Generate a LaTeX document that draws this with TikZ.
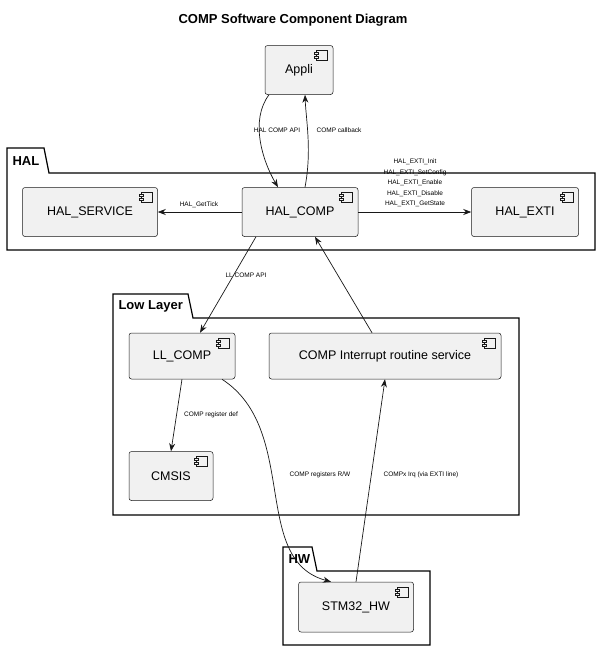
\documentclass[tikz,border=0pt]{standalone}
\usepackage{fontspec}
\setmainfont{Liberation Sans}
\usetikzlibrary{arrows.meta}
\definecolor{boxfill}{HTML}{F1F1F1}
\definecolor{boxline}{HTML}{181818}
\tikzset{
  comp/.style={draw=boxline, fill=boxfill, rounded corners=2.5pt, line width=0.5pt,
    font=\fontsize{12.5}{15}\selectfont, inner sep=0pt},
  pkg/.style={draw=black, line width=1.2pt},
  pkglabel/.style={font=\fontsize{13}{15}\selectfont\bfseries, anchor=west},
  link/.style={-{Stealth[length=8pt,width=6pt]}, draw=boxline, line width=0.7pt},
  lbl/.style={font=\fontsize{6.5}{8}\selectfont, align=center}
}
\begin{document}
\begin{tikzpicture}[x=1pt,y=-1pt]
  \useasboundingbox (0,0) rectangle (600,654);
  % Titre
  \node[font=\fontsize{13}{15}\selectfont\bfseries] (title) at (293,20) {COMP Software Component Diagram};

  % Paquets
  \draw[pkg] (7,173) -- (7,148) -- (44,148) -- (49,173) -- (595,173) -- (595,250) -- (7,250) -- cycle;
  \node[pkglabel] (halpkg) at (9,161) {HAL};
  \draw[pkg] (113,318) -- (113,294) -- (188,294) -- (193,318) -- (519,318) -- (519,515) -- (113,515) -- cycle;
  \node[pkglabel] (llpkg) at (115,306) {Low Layer};
  \draw[pkg] (283,571) -- (283,547) -- (312,547) -- (317,571) -- (430,571) -- (430,645) -- (283,645) -- cycle;
  \node[pkglabel] (hwpkg) at (285,559) {HW};

  % Composants
  \node[comp, minimum width=68pt, minimum height=49pt] (appli) at (299,70) {Appli};
  \node[comp, minimum width=135pt, minimum height=49pt] (halservice) at (90,212) {HAL\_SERVICE};
  \node[comp, minimum width=116pt, minimum height=49pt] (halcomp) at (300,212) {HAL\_COMP};
  \node[comp, minimum width=107pt, minimum height=49pt] (halexti) at (525,212) {HAL\_EXTI};
  \node[comp, minimum width=106pt, minimum height=46pt] (llcomp) at (182,356) {LL\_COMP};
  \node[comp, minimum width=232pt, minimum height=46pt] (compirq) at (385,356) {COMP Interrupt routine service};
  \node[comp, minimum width=84pt, minimum height=49pt] (cmsis) at (171,476) {CMSIS};
  \node[comp, minimum width=115pt, minimum height=50pt] (stm32hw) at (356,607) {STM32\_HW};

  % Icones
  \foreach \n in {appli,halservice,halcomp,halexti,llcomp,compirq,cmsis,stm32hw} {
    \draw[boxline, fill=boxfill, line width=0.4pt] ([xshift=-17pt,yshift=-5pt]\n.north east) rectangle ([xshift=-6pt,yshift=-15pt]\n.north east);
    \draw[boxline, fill=boxfill, line width=0.4pt] ([xshift=-19pt,yshift=-7pt]\n.north east) rectangle ([xshift=-15pt,yshift=-9pt]\n.north east);
    \draw[boxline, fill=boxfill, line width=0.4pt] ([xshift=-19pt,yshift=-11pt]\n.north east) rectangle ([xshift=-15pt,yshift=-13pt]\n.north east);
  }

  % Liens
  \draw[link] ([xshift=-30pt]appli.south) .. controls (250,120) and (262,160) .. ([xshift=-22pt]halcomp.north);
  \node[lbl] (l1) at (277,130) {HAL COMP API};
  \draw[link] ([xshift=5pt]halcomp.north) .. controls (312,150) and (306,120) .. ([xshift=6pt]appli.south);
  \node[lbl] (l2) at (339,130) {COMP callback};
  \draw[link] (halcomp) -- (halservice);
  \node[lbl] (l3) at (199,205) {HAL\_GetTick};
  \draw[link] (halcomp) -- (halexti);
  \node[lbl, font=\fontsize{6.5}{10.5}\selectfont] (l4) at (415,183) {HAL\_EXTI\_Init\\HAL\_EXTI\_SetConfig\\HAL\_EXTI\_Enable\\HAL\_EXTI\_Disable\\HAL\_EXTI\_GetState};
  \draw[link] ([xshift=-44pt]halcomp.south) -- ([xshift=18pt]llcomp.north);
  \node[lbl] (l5) at (246,275) {LL COMP API};
  \draw[link] ([xshift=-13pt]compirq.north) -- ([xshift=15pt]halcomp.south);
  \draw[link] (llcomp.south) -- (cmsis.north);
  \node[lbl] (l6) at (211,415) {COMP register def};
  \draw[link] ([xshift=40pt]llcomp.south) .. controls (300,430) and (250,560) .. ([xshift=-25pt]stm32hw.north);
  \node[lbl] (l7) at (320,475) {COMP registers R/W};
  \draw[link] (stm32hw.north) -- (compirq.south);
  \node[lbl] (l8) at (421,475) {COMPx Irq (via EXTI line)};
\end{tikzpicture}
\end{document}
